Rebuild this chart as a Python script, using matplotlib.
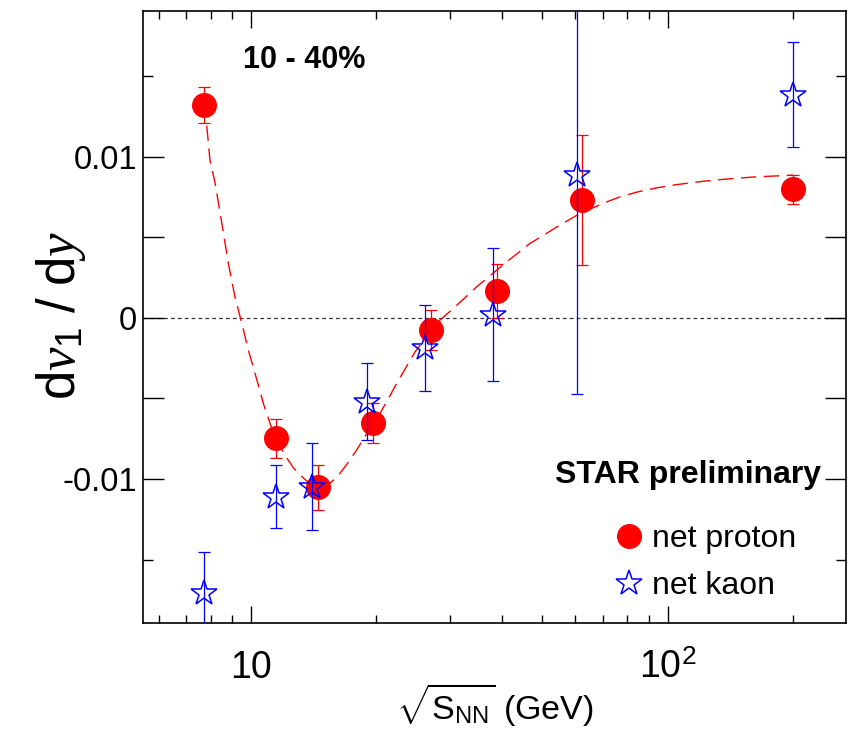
import matplotlib
matplotlib.use('Agg')
import matplotlib.pyplot as plt
from matplotlib.ticker import FixedLocator, FixedFormatter, NullFormatter, LogLocator

plt.rcParams['font.family'] = ['Liberation Sans', 'DejaVu Sans']
plt.rcParams['mathtext.fontset'] = 'custom'
plt.rcParams['mathtext.rm'] = 'Liberation Sans'
plt.rcParams['mathtext.it'] = 'Liberation Serif:italic'
plt.rcParams['mathtext.bf'] = 'Liberation Sans:bold'

# ---- data ----
proton_x = [7.7, 11.5, 14.5, 19.6, 27.0, 39.0, 62.4, 200.0]
proton_y = [0.01319, -0.00748, -0.01051, -0.00651, -0.00076, 0.00166, 0.00730, 0.00797]
proton_err = [0.00113, 0.00120, 0.00140, 0.00125, 0.00124, 0.00165, 0.00405, 0.00090]

kaon_x = [7.7, 11.5, 14.0, 19.0, 26.1, 38.0, 60.6, 200.0]
kaon_y = [-0.01709, -0.01110, -0.01048, -0.00521, -0.00190, 0.00020, 0.00885, 0.01385]
kaon_err = [0.00258, 0.00194, 0.00269, 0.00240, 0.00267, 0.00410, 0.01360, 0.00324]

fit_x = [7.83, 7.97, 8.20, 8.51, 8.82, 9.15, 9.50, 9.85, 10.22, 10.70, 11.3, 12.0,
         12.64, 12.99, 13.6, 14.24, 14.9, 15.47, 16.06, 16.97, 17.93, 18.60, 20.39,
         21.17, 22.37, 24.75, 28.42, 30.59, 34.80, 41.08, 46.72, 55.14, 61.58, 71.40,
         76.83, 85.0, 95.0, 105.0, 120.0, 135.0, 160.0, 200.0]
fit_y = [0.01192, 0.00978, 0.00835, 0.00587, 0.00339, 0.00130, -0.00033, -0.00200,
         -0.00343, -0.00529, -0.00712, -0.00845, -0.00930, -0.00965, -0.01012, -0.01040,
         -0.01048, -0.01025, -0.00990, -0.00910, -0.00820, -0.00752, -0.00593, -0.00520,
         -0.00407, -0.00211, -0.00014, 0.00058, 0.00192, 0.00347, 0.00461, 0.00575,
         0.00647, 0.00719, 0.00750, 0.00782, 0.00808, 0.00826, 0.00845, 0.00858,
         0.00873, 0.00885]

x_major = [10, 100]
x_major_labels = ['10', r'10$^{2}$']
y_major = [-0.01, -0.005, 0.0, 0.005, 0.01]
y_major_labels = ['-0.01', '', '0', '', '0.01']
y_minor = [-0.015, 0.015]

series_labels = ['net proton', 'net kaon']

# ---- figure ----
fig = plt.figure(figsize=(8.59, 7.33), dpi=100)
ax = fig.add_axes([143 / 859, 1 - 623.3 / 733, 703 / 859, 612.3 / 733])
ax.set_xscale('log')
ax.set_xlim(5.505, 267.9)
ax.set_ylim(-0.01895, 0.01903)

ax.axhline(0, color='#333333', lw=0.9, ls=(0, (3, 2.5)), zorder=1)
ax.plot(fit_x, fit_y, color='red', lw=1.0, ls=(0, (11, 5.5)), zorder=2)

ax.errorbar(proton_x, proton_y, yerr=proton_err, fmt='none', ecolor='red',
            elinewidth=0.9, capsize=4.3, capthick=0.9, zorder=3)
ax.plot(proton_x, proton_y, 'o', color='red', ms=17, mec='red', ls='none',
        label=series_labels[0], zorder=4)
ax.errorbar(kaon_x, kaon_y, yerr=kaon_err, fmt='none', ecolor='blue',
            elinewidth=0.9, capsize=4.3, capthick=0.9, zorder=5)
ax.plot(kaon_x, kaon_y, '*', ms=19, mfc='none', mec='blue', mew=1.1, ls='none',
        label=series_labels[1], zorder=6)

# ticks
ax.xaxis.set_major_locator(FixedLocator(x_major))
ax.xaxis.set_major_formatter(FixedFormatter(x_major_labels))
ax.xaxis.set_minor_locator(LogLocator(base=10, subs=(2, 3, 4, 5, 6, 7, 8, 9), numticks=20))
ax.xaxis.set_minor_formatter(NullFormatter())
ax.yaxis.set_major_locator(FixedLocator(y_major))
ax.yaxis.set_major_formatter(FixedFormatter(y_major_labels))
ax.yaxis.set_minor_locator(FixedLocator(y_minor))

ax.tick_params(axis='both', which='both', direction='in', top=True, right=True,
               width=1.0, colors='black')
ax.tick_params(axis='x', which='major', length=12, labelsize=27, pad=39.6)
ax.tick_params(axis='x', which='minor', length=6)
ax.tick_params(axis='y', which='major', length=15, labelsize=23.5, pad=4.3)
ax.tick_params(axis='y', which='minor', length=7.5)
for lbl in ax.get_xticklabels():
    lbl.set_va('baseline')

for s in ax.spines.values():
    s.set_linewidth(1.2)

ax.set_xlabel(r'$\sqrt{\mathrm{S}_{\mathrm{NN}}}$ (GeV)', fontsize=24.5)
ax.xaxis.set_label_coords(0.5, -0.0954)
ax.set_ylabel(r'$\mathrm{d}v_{\mathrm{1}}\ /\ \mathrm{d}y$', fontsize=38, va='center')
ax.yaxis.set_label_coords(-0.1166, 0.5035)

ax.text(0.1422, 0.9064, '10 - 40%', transform=ax.transAxes, fontsize=22,
        fontweight='bold', ha='left', va='baseline')
ax.text(0.9644, 0.2291, 'STAR preliminary', transform=ax.transAxes, fontsize=23,
        fontweight='bold', ha='right', va='baseline')

ax.legend(loc='upper left', bbox_to_anchor=(0.678, 0.162), frameon=False,
          fontsize=23, handlelength=0.6, handletextpad=0.4, labelspacing=0.52,
          borderpad=0, borderaxespad=0, numpoints=1)

fig.savefig('out.png', dpi=100)
